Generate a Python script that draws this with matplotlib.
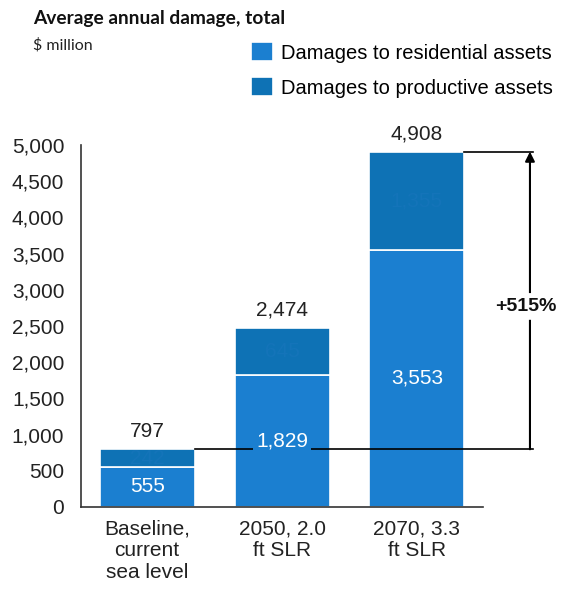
#!/usr/bin/env python
"""
Average annual damage, stacked bars by scenario.
"""

import numpy as np
import matplotlib.pyplot as plt

categories = ["Baseline,\ncurrent\nsea level", "2050, 2.0\nft SLR", "2070, 3.3\nft SLR"]
residential = [555, 1829, 3553]
productive = [242, 645, 1355]
totals = [797, 2474, 4908]
yticks = [0, 500, 1000, 1500, 2000, 2500, 3000, 3500, 4000, 4500, 5000]
change_label = "+515%"

c_res = "#1b7fd0"
c_prod = "#0e72b5"
fs = 15

plt.rcParams["font.family"] = ["Liberation Sans", "DejaVu Sans"]

fig = plt.figure(figsize=(5.65, 5.92), dpi=100)
ax = fig.add_axes([0.1434, 0.1436, 0.7115, 0.6115])

x = np.arange(len(categories))
w = 0.704
ax.bar(x, residential, w, color=c_res, edgecolor="white", linewidth=1.2,
       label="Damages to residential assets", zorder=2)
ax.bar(x, productive, w, bottom=residential, color=c_prod, edgecolor="white",
       linewidth=1.2, label="Damages to productive assets", zorder=2)

# change annotation (drawn over the bars)
xa = 2.838
ax.plot([w / 2, 2.86], [totals[0], totals[0]], color="black", lw=1.2,
        clip_on=False, zorder=3)
ax.plot([2 + w / 2, 2.86], [totals[2], totals[2]], color="black", lw=1.2,
        clip_on=False, zorder=3)
ax.annotate("", xy=(xa, totals[2]), xytext=(xa, totals[0]),
            arrowprops=dict(arrowstyle="-|>", color="black", lw=1.5,
                            mutation_scale=14, shrinkA=0, shrinkB=0),
            annotation_clip=False, zorder=3)
ax.text(xa - 0.03, 2770, change_label, ha="center", va="center",
        fontsize=14, fontweight="bold", color="#111111",
        bbox=dict(boxstyle="round,pad=0.25", fc="white", ec="none"),
        clip_on=False, zorder=4)

for xi, r, p, t in zip(x, residential, productive, totals):
    ax.text(xi, r / 2, "{:,}".format(r), ha="center", va="center",
            color="white", fontsize=fs, zorder=4,
            bbox=dict(boxstyle="square,pad=0.15", fc=c_res, ec="none"))
    ax.text(xi, r + p / 2, "{:,}".format(p), ha="center", va="center",
            color="#1474b9", fontsize=fs, zorder=4)
    ax.text(xi, t + 110, "{:,}".format(t), ha="center", va="bottom",
            color="#222222", fontsize=fs)

ax.set_xlim(-0.49, 2.49)
ax.set_ylim(0, 5000)
ax.set_yticks(yticks)
ax.set_yticklabels(["{:,}".format(v) for v in yticks], fontsize=fs,
                   color="#222222")
ax.set_xticks(x)
ax.set_xticklabels(categories, fontsize=fs, color="#222222",
                   linespacing=1.2)
ax.tick_params(axis="both", length=0)
ax.tick_params(axis="y", pad=12)
ax.tick_params(axis="x", pad=9)
for s in ["top", "right"]:
    ax.spines[s].set_visible(False)
for s in ["left", "bottom"]:
    ax.spines[s].set_color("#333333")
    ax.spines[s].set_linewidth(1.2)

fig.text(0.058, 0.968, "Average annual damage, total", fontsize=13.8,
         fontweight="bold", family=["Lato", "DejaVu Sans"], va="center",
         color="#111111")
fig.text(0.058, 0.924, "$ million", fontsize=11.5,
         family=["Lato", "DejaVu Sans"], va="center", color="#222222")

fig.legend(loc="upper left", bbox_to_anchor=(0.444, 0.929), frameon=False,
           fontsize=14.5, handlelength=1.1, handleheight=1.1, handletextpad=0.4,
           labelspacing=0.72, borderaxespad=0, borderpad=0)

plt.savefig("out.png", dpi=100)
